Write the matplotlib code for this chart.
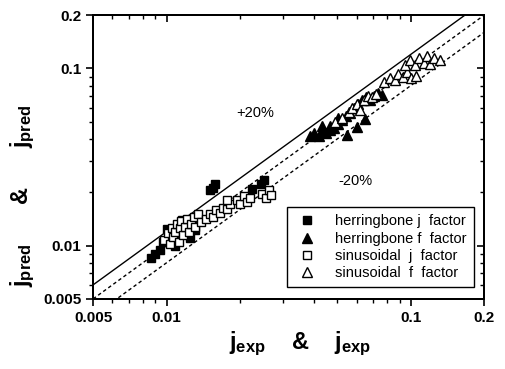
import numpy as np
import matplotlib.pyplot as plt
from matplotlib.ticker import FixedLocator, NullFormatter

plt.rcParams['font.family'] = ['Liberation Sans', 'DejaVu Sans']
plt.rcParams['mathtext.fontset'] = 'custom'
plt.rcParams['mathtext.rm'] = 'Liberation Sans:bold'
plt.rcParams['mathtext.it'] = 'Liberation Sans:bold'
plt.rcParams['mathtext.bf'] = 'Liberation Sans:bold'

# herringbone j factor (filled squares)
hj_exp = [0.00865, 0.0090, 0.0094, 0.0097, 0.0103, 0.0100, 0.0108, 0.0114, 0.0111,
          0.0119, 0.0125, 0.0131, 0.0116, 0.0128, 0.0150, 0.0155, 0.0158, 0.0224,
          0.0244, 0.0250]
hj_pred = [0.0085, 0.0090, 0.0095, 0.0105, 0.0115, 0.0124, 0.0100, 0.0117, 0.0108,
           0.0131, 0.0110, 0.0123, 0.0139, 0.0135, 0.0206, 0.0212, 0.0222, 0.0208,
           0.0224, 0.0235]

# herringbone f factor (filled triangles)
hf_exp = [0.0387, 0.0403, 0.0419, 0.0435, 0.0451, 0.0468, 0.0486, 0.0435, 0.0505,
          0.0525, 0.0545, 0.0566, 0.0588, 0.0610, 0.0634, 0.0658, 0.0683, 0.0710,
          0.0737, 0.0765, 0.0550, 0.0600, 0.0650, 0.0468, 0.0505]
hf_pred = [0.0417, 0.0434, 0.0417, 0.0446, 0.0434, 0.0451, 0.0462, 0.0474, 0.0487,
           0.0513, 0.0541, 0.0562, 0.0600, 0.0632, 0.0665, 0.0693, 0.0665, 0.0700,
           0.0728, 0.0710, 0.0422, 0.0468, 0.0520, 0.0474, 0.0527]

# sinusoidal j factor (open squares)
sj_exp = [0.0098, 0.0101, 0.0103, 0.0105, 0.0106, 0.0108, 0.0110, 0.0112, 0.0113,
          0.0115, 0.0117, 0.0119, 0.0121, 0.0123, 0.0126, 0.0129, 0.0131, 0.0135,
          0.0138, 0.0145, 0.0150, 0.0155, 0.0160, 0.0165, 0.0170, 0.0176, 0.0182,
          0.0177, 0.0195, 0.0200, 0.0208, 0.0214, 0.0220, 0.0247, 0.0255, 0.0262,
          0.0268]
sj_pred = [0.0108, 0.0118, 0.0102, 0.0126, 0.0112, 0.0120, 0.0132, 0.0105, 0.0125,
           0.0138, 0.0115, 0.0128, 0.0142, 0.0120, 0.0133, 0.0145, 0.0127, 0.0150,
           0.0136, 0.0142, 0.0150, 0.0145, 0.0158, 0.0152, 0.0164, 0.0160, 0.0172,
           0.0180, 0.0180, 0.0172, 0.0190, 0.0177, 0.0185, 0.0195, 0.0185, 0.0205,
           0.0192]

# sinusoidal f factor (open triangles)
sf_exp = [0.0490, 0.0525, 0.0556, 0.0577, 0.0600, 0.0621, 0.0645, 0.0670, 0.0697,
          0.0723, 0.0779, 0.0824, 0.0862, 0.0886, 0.0926, 0.0962, 0.1000, 0.1047,
          0.0950, 0.0996, 0.1040, 0.1080, 0.1130, 0.1170, 0.1200, 0.1250, 0.1320]
sf_pred = [0.0500, 0.0527, 0.0569, 0.0600, 0.0632, 0.0585, 0.0665, 0.0700, 0.0686,
           0.0718, 0.0841, 0.0887, 0.0864, 0.0933, 0.0899, 0.0957, 0.0880, 0.0910,
           0.1050, 0.1120, 0.1040, 0.1150, 0.1080, 0.1170, 0.1060, 0.1150, 0.1120]

lims = [0.005, 0.2]
ticks = [0.005, 0.01, 0.1, 0.2]
tick_labels = ['0.005', '0.01', '0.1', '0.2']
minor = [0.006, 0.007, 0.008, 0.009, 0.02, 0.03, 0.04, 0.05, 0.06, 0.07, 0.08, 0.09]

fig = plt.figure(figsize=(5.06, 3.69), dpi=100)
ax = fig.add_axes([0.184, 0.190, 0.773, 0.769])

xx = np.array(lims)
ax.plot(xx, 1.2 * xx, '-', color='black', lw=1.0)
ax.plot(xx, xx, color='black', lw=1.0, ls=(0, (2.5, 2)))
ax.plot(xx, 0.8 * xx, color='black', lw=1.0, ls=(0, (2.5, 2)))

ax.plot(hj_exp, hj_pred, 's', ms=5.5, mfc='black', mec='black', label='herringbone j  factor')
ax.plot(hf_exp, hf_pred, '^', ms=6.5, mfc='black', mec='black', label='herringbone f  factor')
ax.plot(sj_exp, sj_pred, 's', ms=5.5, mfc='white', mec='black', mew=1.0, label='sinusoidal  j  factor')
ax.plot(sf_exp, sf_pred, '^', ms=6.5, mfc='white', mec='black', mew=1.0, label='sinusoidal  f  factor')

ax.set_xscale('log')
ax.set_yscale('log')
ax.set_xlim(lims)
ax.set_ylim(lims)

for axis in (ax.xaxis, ax.yaxis):
    axis.set_major_locator(FixedLocator(ticks))
    axis.set_minor_locator(FixedLocator(minor))
    axis.set_minor_formatter(NullFormatter())
ax.set_xticklabels(tick_labels)
ax.set_yticklabels(tick_labels)
ax.tick_params(which='major', direction='out', length=5, width=1.2, labelsize=11)
ax.tick_params(which='minor', direction='out', length=3, width=1.0)
for lab in ax.get_xticklabels() + ax.get_yticklabels():
    lab.set_fontweight('bold')

# mirrored ticks pointing inward on top and right
axt = ax.twiny()
axt.set_xscale('log')
axt.set_xlim(lims)
axt.xaxis.set_major_locator(FixedLocator(ticks))
axt.xaxis.set_minor_locator(FixedLocator(minor))
axt.xaxis.set_major_formatter(NullFormatter())
axt.xaxis.set_minor_formatter(NullFormatter())
axt.tick_params(which='major', direction='in', length=5, width=1.2)
axt.tick_params(which='minor', direction='in', length=3, width=1.0)
axr = ax.twinx()
axr.set_yscale('log')
axr.set_ylim(lims)
axr.yaxis.set_major_locator(FixedLocator(ticks))
axr.yaxis.set_minor_locator(FixedLocator(minor))
axr.yaxis.set_major_formatter(NullFormatter())
axr.yaxis.set_minor_formatter(NullFormatter())
axr.tick_params(which='major', direction='in', length=5, width=1.2)
axr.tick_params(which='minor', direction='in', length=3, width=1.0)
for a in (ax, axt, axr):
    for s in a.spines.values():
        s.set_linewidth(1.3)

ax.text(0.0231, 0.056, '+20%', fontsize=10.5, ha='center', va='center')
ax.text(0.0593, 0.0232, '-20%', fontsize=10.5, ha='center', va='center')

leg = ax.legend(loc='lower right', bbox_to_anchor=(0.992, 0.015), fontsize=10.5,
                frameon=True, fancybox=False, edgecolor='black', framealpha=1,
                handletextpad=1.0, borderpad=0.5, labelspacing=0.22, handlelength=1.8)
leg.get_frame().set_linewidth(1.0)
leg.set_zorder(10)

fig.text(0.593, 0.068, r'$j_{exp}$    &    $j_{exp}$', fontsize=17, fontweight='bold',
         ha='center', va='center')
fig.text(0.045, 0.47, r'$j_{pred}$      &      $j_{pred}$', fontsize=17, fontweight='bold',
         ha='center', va='center', rotation=90)

fig.savefig('out.png', dpi=100)
